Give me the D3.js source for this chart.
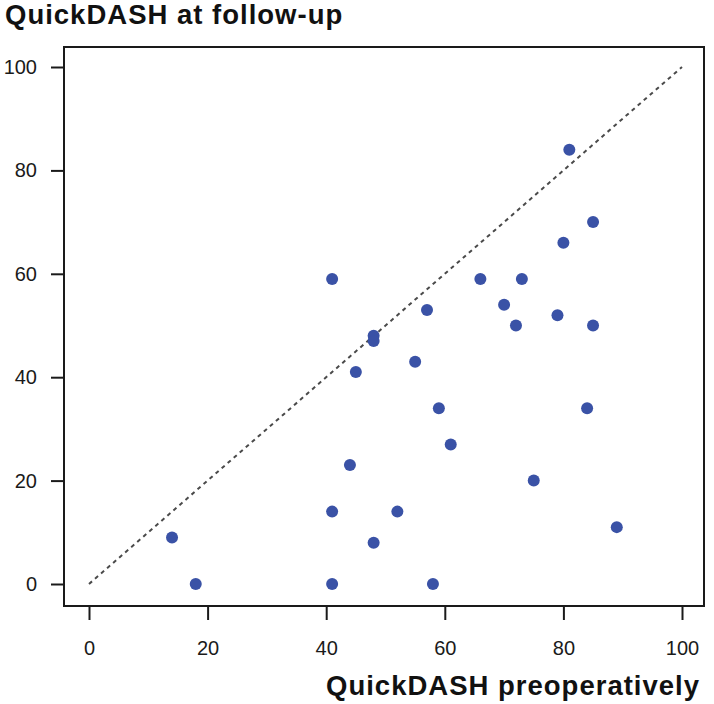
<!DOCTYPE html>
<html>
<head>
<meta charset="utf-8">
<script src="https://cdn.jsdelivr.net/npm/d3@7"></script>
<style>
  body { margin: 0; background: #fff; }
  svg { display: block; font-family: "Liberation Sans", Arial, sans-serif; }
  .axis text { font-size: 20px; fill: #1a1a1a; }
  .axis line { stroke: #1a1a1a; stroke-width: 2px; }
  .title { font-weight: bold; font-size: 27.5px; letter-spacing: 1px; fill: #111; }
</style>
</head>
<body>
<div id="chart"></div>
<script>

// QuickDASH scores, one entry per patient
var preop    = [81, 85, 80, 66, 73, 57, 70, 79, 72, 85, 41, 48, 48, 45, 44, 41, 52, 48, 14, 18, 41, 55, 59, 84, 61, 75, 89, 58];
var followup = [84, 70, 66, 59, 59, 53, 54, 52, 50, 50, 59, 48, 47, 41, 23, 14, 14,  8,  9,  0,  0, 43, 34, 34, 27, 20, 11,  0];
var tickValues = [0, 20, 40, 60, 80, 100];

var width = 714, height = 704;
var frame = {left: 64, right: 704, top: 47, bottom: 606};

var x = d3.scaleLinear()
    .domain([0, 100])
    .range([89, 682]);

var y = d3.scaleLinear()
    .domain([0, 100])
    .range([584, 67]);

var svg = d3.select("#chart").append("svg")
    .attr("width", width)
    .attr("height", height);

svg.append("text")
    .attr("class", "title")
    .attr("x", 5)
    .attr("y", 24)
    .text("QuickDASH at follow-up");

svg.append("text")
    .attr("class", "title")
    .attr("x", 700)
    .attr("y", 695)
    .style("text-anchor", "end")
    .text("QuickDASH preoperatively");

// box round the plot
svg.append("rect")
    .attr("x", frame.left)
    .attr("y", frame.top)
    .attr("width", frame.right - frame.left)
    .attr("height", frame.bottom - frame.top)
    .style("fill", "none")
    .style("stroke", "#1a1a1a")
    .style("stroke-width", 2);

var yAxis = svg.append("g")
    .attr("class", "axis")
    .attr("transform", "translate(" + frame.left + ",0)")
    .call(d3.axisLeft(y).tickValues(tickValues).tickSize(13).tickPadding(14));
yAxis.select(".domain").remove();

var xAxis = svg.append("g")
    .attr("class", "axis")
    .attr("transform", "translate(0," + (frame.bottom + 1) + ")")
    .call(d3.axisBottom(x).tickValues(tickValues).tickSize(13).tickPadding(21));
xAxis.select(".domain").remove();

// line of equality
svg.append("line")
    .attr("x1", x(0))
    .attr("y1", y(0))
    .attr("x2", x(100))
    .attr("y2", y(100))
    .style("stroke", "#4a4a4a")
    .style("stroke-width", 2)
    .style("stroke-dasharray", "4,4");

svg.append("g").selectAll(".dot")
    .data(d3.range(preop.length))
  .enter().append("circle")
    .attr("class", "dot")
    .attr("cx", function(i) { return x(preop[i]); })
    .attr("cy", function(i) { return y(followup[i]); })
    .attr("r", 6)
    .style("fill", "#3a52a6");

</script>
</body>
</html>
